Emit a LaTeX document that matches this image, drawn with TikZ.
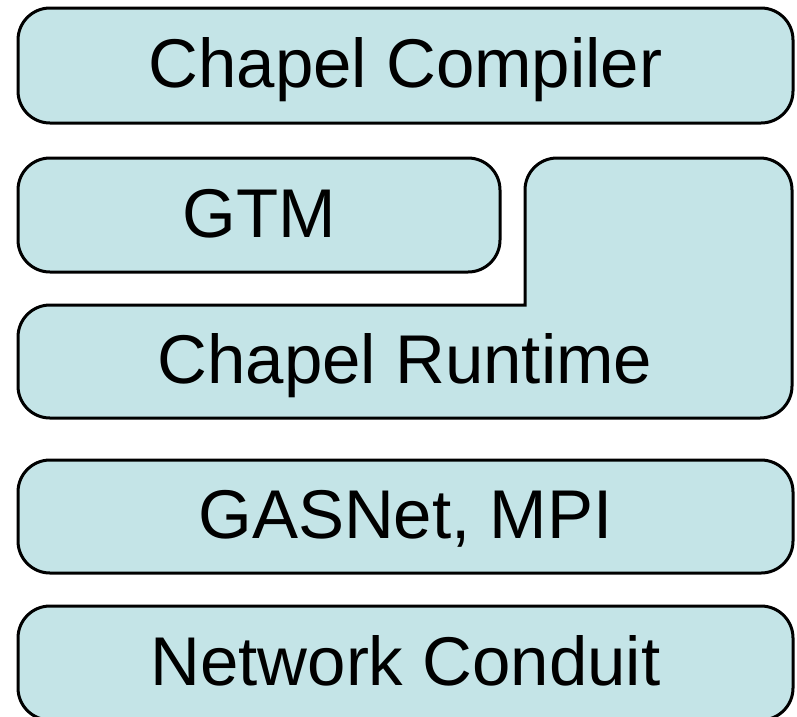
\documentclass[tikz,border=0pt]{standalone}
\usepackage{fontspec}
\setmainfont{Liberation Sans}
\definecolor{layerfill}{RGB}{196,228,231}
\tikzset{
  layer/.style={draw=black, line width=3pt, fill=layerfill, rectangle,
    rounded corners=32pt, inner sep=0pt, text height=49pt, text depth=5pt,
    font=\fontsize{69}{80}\selectfont},
  layertext/.style={inner sep=0pt, text height=49pt, text depth=5pt,
    font=\fontsize{69}{80}\selectfont}
}
\begin{document}
\begin{tikzpicture}[x=1pt,y=-1pt]
  \useasboundingbox (0,0) rectangle (797,716);
  \clip (0,0) rectangle (797,716);
  % stack of software layers
  \node[layer, minimum width=775pt, minimum height=115pt] (compiler) at (405.5,65.5) {Chapel Compiler};
  \node[layer, minimum width=482pt, minimum height=114pt] (gtm) at (259,215) {GTM};
  % L-shaped runtime layer, open path so the inner corner beside GTM stays sharp
  \draw[line width=3pt, fill=layerfill, rounded corners=32pt, line cap=rect]
    (525,305) -- (525,158) -- (792,158) -- (792,418) -- (18,418) -- (18,305) -- (525,305);
  \node[layertext] (runtime) at (405,361.5) {Chapel Runtime};
  \node[layer, minimum width=775pt, minimum height=113pt] (gasnet) at (405.5,516.5) {GASNet, MPI};
  \node[layer, minimum width=775pt, minimum height=114pt] (conduit) at (405.5,663) {Network Conduit};
\end{tikzpicture}
\end{document}
